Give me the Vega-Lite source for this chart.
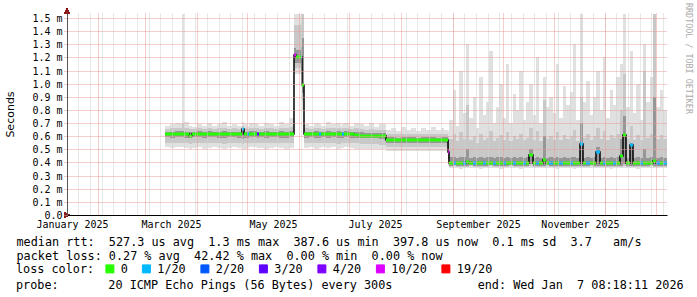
{
  "$schema": "https://vega.github.io/schema/vega-lite/v6.json",
  "width": 600,
  "height": 202,
  "autosize": {"type": "none"},
  "padding": {"left": 67, "top": 13, "right": 30, "bottom": 82},
  "background": "white",
  "config": {"view": {"stroke": null}},
  "title": {
    "text": "probe:\u00a0\u00a0\u00a0\u00a0\u00a0\u00a0\u00a020\u00a0ICMP\u00a0Echo\u00a0Pings\u00a0(56\u00a0Bytes)\u00a0every\u00a0300s\u00a0\u00a0\u00a0\u00a0\u00a0\u00a0\u00a0\u00a0\u00a0\u00a0\u00a0\u00a0end:\u00a0Wed\u00a0Jan\u00a0\u00a07\u00a008:18:11\u00a02026",
    "orient": "bottom", "anchor": "start", "frame": "group",
    "font": "DejaVu Sans Mono", "fontSize": 11.8, "fontWeight": "normal", "color": "black",
    "dx": -51, "offset": 4
  },
  "data": {"values": [
    {"t":"2025-03-13","m":0.615,"l":"0","a":0.52,"b":0.68,"c":0.55,"d":0.655,"e":0.595,"f":0.635},
    {"t":"2025-03-16","m":0.613,"l":"0","a":0.51,"b":0.69,"c":0.545,"d":0.66,"e":0.59,"f":0.635},
    {"t":"2025-03-19","m":0.615,"l":"0","a":0.52,"b":0.70,"c":0.55,"d":0.665,"e":0.595,"f":0.64},
    {"t":"2025-03-23","m":0.615,"l":"0","a":0.515,"b":1.53,"c":0.55,"d":0.69,"e":0.595,"f":0.64},
    {"t":"2025-03-24","m":0.614,"l":"0","a":0.51,"b":0.71,"c":0.545,"d":0.665,"e":0.59,"f":0.635},
    {"t":"2025-03-27","m":0.602,"l":"0","a":0.50,"b":0.68,"c":0.54,"d":0.655,"e":0.585,"f":0.63},
    {"t":"2025-03-29","m":0.615,"l":"0","a":0.51,"b":0.67,"c":0.55,"d":0.655,"e":0.595,"f":0.635},
    {"t":"2025-04-01","m":0.616,"l":"0","a":0.52,"b":0.69,"c":0.55,"d":0.66,"e":0.595,"f":0.64},
    {"t":"2025-04-04","m":0.615,"l":"0","a":0.505,"b":0.68,"c":0.545,"d":0.655,"e":0.59,"f":0.635},
    {"t":"2025-04-07","m":0.614,"l":"0","a":0.51,"b":0.70,"c":0.55,"d":0.665,"e":0.595,"f":0.64},
    {"t":"2025-04-10","m":0.615,"l":"0","a":0.52,"b":0.68,"c":0.55,"d":0.655,"e":0.595,"f":0.635},
    {"t":"2025-04-13","m":0.615,"l":"0","a":0.51,"b":0.69,"c":0.545,"d":0.66,"e":0.59,"f":0.635},
    {"t":"2025-04-16","m":0.616,"l":"0","a":0.50,"b":0.71,"c":0.54,"d":0.665,"e":0.59,"f":0.64},
    {"t":"2025-04-19","m":0.615,"l":"0","a":0.51,"b":0.68,"c":0.55,"d":0.655,"e":0.595,"f":0.635},
    {"t":"2025-04-22","m":0.614,"l":"0","a":0.515,"b":0.69,"c":0.55,"d":0.66,"e":0.595,"f":0.635},
    {"t":"2025-04-25","m":0.615,"l":"0","a":0.51,"b":0.68,"c":0.545,"d":0.655,"e":0.59,"f":0.635},
    {"t":"2025-04-28","m":0.655,"l":"1/20","a":0.50,"b":0.71,"c":0.54,"d":0.68,"e":0.58,"f":0.66},
    {"t":"2025-04-29","m":0.615,"l":"0","a":0.505,"b":0.69,"c":0.545,"d":0.66,"e":0.59,"f":0.635},
    {"t":"2025-05-01","m":0.615,"l":"1/20","a":0.51,"b":0.68,"c":0.545,"d":0.655,"e":0.59,"f":0.635},
    {"t":"2025-05-02","m":0.615,"l":"0","a":0.52,"b":0.70,"c":0.55,"d":0.66,"e":0.595,"f":0.64},
    {"t":"2025-05-07","m":0.615,"l":"3/20","a":0.51,"b":0.69,"c":0.545,"d":0.66,"e":0.59,"f":0.635},
    {"t":"2025-05-08","m":0.616,"l":"0","a":0.51,"b":0.68,"c":0.55,"d":0.655,"e":0.595,"f":0.635},
    {"t":"2025-05-11","m":0.615,"l":"0","a":0.505,"b":0.70,"c":0.545,"d":0.665,"e":0.59,"f":0.64},
    {"t":"2025-05-14","m":0.615,"l":"0","a":0.51,"b":0.69,"c":0.55,"d":0.66,"e":0.595,"f":0.635},
    {"t":"2025-05-17","m":0.614,"l":"0","a":0.52,"b":0.68,"c":0.55,"d":0.655,"e":0.595,"f":0.635},
    {"t":"2025-05-20","m":0.615,"l":"0","a":0.51,"b":0.71,"c":0.545,"d":0.665,"e":0.59,"f":0.64},
    {"t":"2025-05-23","m":0.616,"l":"0","a":0.505,"b":0.69,"c":0.545,"d":0.66,"e":0.59,"f":0.635},
    {"t":"2025-05-26","m":0.615,"l":"0","a":0.51,"b":0.74,"c":0.55,"d":0.67,"e":0.595,"f":0.64},
    {"t":"2025-05-29","m":1.215,"l":"10/20","a":1.07,"b":1.53,"c":1.12,"d":1.45,"e":1.16,"f":1.27},
    {"t":"2025-05-30","m":1.20,"l":"0","a":1.07,"b":1.53,"c":1.12,"d":1.45,"e":1.16,"f":1.26},
    {"t":"2025-06-02","m":1.205,"l":"1/20","a":1.06,"b":1.53,"c":1.11,"d":1.47,"e":1.16,"f":1.28},
    {"t":"2025-06-03","m":0.99,"l":"0","a":0.80,"b":1.53,"c":0.87,"d":1.53,"e":0.93,"f":1.35},
    {"t":"2025-06-04","m":0.615,"l":"0","a":0.51,"b":0.69,"c":0.545,"d":0.66,"e":0.59,"f":0.635},
    {"t":"2025-06-07","m":0.616,"l":"0","a":0.52,"b":0.68,"c":0.55,"d":0.655,"e":0.595,"f":0.635},
    {"t":"2025-06-10","m":0.615,"l":"0","a":0.505,"b":0.70,"c":0.545,"d":0.665,"e":0.59,"f":0.64},
    {"t":"2025-06-13","m":0.615,"l":"1/20","a":0.51,"b":0.69,"c":0.545,"d":0.66,"e":0.59,"f":0.635},
    {"t":"2025-06-14","m":0.615,"l":"0","a":0.52,"b":0.68,"c":0.55,"d":0.655,"e":0.595,"f":0.635},
    {"t":"2025-06-17","m":0.614,"l":"0","a":0.51,"b":0.71,"c":0.545,"d":0.665,"e":0.59,"f":0.64},
    {"t":"2025-06-20","m":0.615,"l":"0","a":0.515,"b":0.69,"c":0.55,"d":0.66,"e":0.595,"f":0.635},
    {"t":"2025-06-23","m":0.616,"l":"0","a":0.50,"b":0.70,"c":0.54,"d":0.665,"e":0.59,"f":0.64},
    {"t":"2025-06-26","m":0.615,"l":"0","a":0.51,"b":0.68,"c":0.545,"d":0.655,"e":0.59,"f":0.635},
    {"t":"2025-06-27","m":0.615,"l":"1/20","a":0.51,"b":0.69,"c":0.545,"d":0.66,"e":0.59,"f":0.635},
    {"t":"2025-06-28","m":0.615,"l":"0","a":0.515,"b":0.70,"c":0.55,"d":0.66,"e":0.595,"f":0.64},
    {"t":"2025-07-01","m":0.615,"l":"0","a":0.51,"b":0.68,"c":0.545,"d":0.655,"e":0.59,"f":0.635},
    {"t":"2025-07-04","m":0.612,"l":"0","a":0.505,"b":0.70,"c":0.545,"d":0.66,"e":0.59,"f":0.635},
    {"t":"2025-07-07","m":0.605,"l":"0","a":0.50,"b":0.69,"c":0.54,"d":0.655,"e":0.585,"f":0.63},
    {"t":"2025-07-10","m":0.602,"l":"0","a":0.505,"b":0.68,"c":0.54,"d":0.65,"e":0.585,"f":0.625},
    {"t":"2025-07-13","m":0.602,"l":"0","a":0.50,"b":0.70,"c":0.54,"d":0.655,"e":0.585,"f":0.625},
    {"t":"2025-07-16","m":0.602,"l":"0","a":0.505,"b":0.67,"c":0.54,"d":0.65,"e":0.585,"f":0.625},
    {"t":"2025-07-19","m":0.600,"l":"0","a":0.50,"b":0.69,"c":0.535,"d":0.65,"e":0.58,"f":0.625},
    {"t":"2025-07-23","m":0.572,"l":"0","a":0.49,"b":0.65,"c":0.52,"d":0.615,"e":0.55,"f":0.595},
    {"t":"2025-07-26","m":0.572,"l":"0","a":0.485,"b":0.66,"c":0.52,"d":0.62,"e":0.55,"f":0.595},
    {"t":"2025-07-29","m":0.570,"l":"0","a":0.49,"b":0.64,"c":0.52,"d":0.615,"e":0.55,"f":0.59},
    {"t":"2025-08-01","m":0.572,"l":"0","a":0.49,"b":0.67,"c":0.52,"d":0.62,"e":0.55,"f":0.595},
    {"t":"2025-08-04","m":0.571,"l":"0","a":0.485,"b":0.65,"c":0.515,"d":0.615,"e":0.55,"f":0.595},
    {"t":"2025-08-07","m":0.572,"l":"0","a":0.49,"b":0.66,"c":0.52,"d":0.62,"e":0.55,"f":0.595},
    {"t":"2025-08-10","m":0.572,"l":"0","a":0.49,"b":0.64,"c":0.52,"d":0.615,"e":0.55,"f":0.59},
    {"t":"2025-08-13","m":0.570,"l":"0","a":0.485,"b":0.66,"c":0.515,"d":0.62,"e":0.55,"f":0.595},
    {"t":"2025-08-16","m":0.572,"l":"0","a":0.49,"b":0.65,"c":0.52,"d":0.615,"e":0.55,"f":0.595},
    {"t":"2025-08-19","m":0.572,"l":"0","a":0.49,"b":0.67,"c":0.52,"d":0.62,"e":0.55,"f":0.595},
    {"t":"2025-08-22","m":0.571,"l":"0","a":0.485,"b":0.65,"c":0.515,"d":0.615,"e":0.55,"f":0.59},
    {"t":"2025-08-25","m":0.572,"l":"0","a":0.49,"b":0.66,"c":0.52,"d":0.62,"e":0.55,"f":0.595},
    {"t":"2025-08-27","m":0.572,"l":"0","a":0.49,"b":0.65,"c":0.52,"d":0.615,"e":0.55,"f":0.595},
    {"t":"2025-08-29","m":0.48,"l":"10/20","a":0.37,"b":0.64,"c":0.40,"d":0.60,"e":0.43,"f":0.57},
    {"t":"2025-08-30","m":0.395,"l":"0","a":0.355,"b":0.72,"c":0.365,"d":0.58,"e":0.375,"f":0.44},
    {"t":"2025-09-01","m":0.398,"l":"1/20","a":0.36,"b":0.95,"c":0.37,"d":0.62,"e":0.378,"f":0.44},
    {"t":"2025-09-03","m":0.395,"l":"0","a":0.355,"b":0.68,"c":0.365,"d":0.56,"e":0.375,"f":0.435},
    {"t":"2025-09-05","m":0.393,"l":"0","a":0.35,"b":1.10,"c":0.362,"d":0.63,"e":0.375,"f":0.44},
    {"t":"2025-09-07","m":0.396,"l":"1/20","a":0.355,"b":0.78,"c":0.365,"d":0.58,"e":0.375,"f":0.44},
    {"t":"2025-09-09","m":0.40,"l":"0","a":0.355,"b":1.30,"c":0.365,"d":0.84,"e":0.375,"f":0.50},
    {"t":"2025-09-11","m":0.395,"l":"0","a":0.36,"b":0.74,"c":0.37,"d":0.57,"e":0.378,"f":0.435},
    {"t":"2025-09-13","m":0.394,"l":"1/20","a":0.355,"b":0.90,"c":0.365,"d":0.60,"e":0.375,"f":0.44},
    {"t":"2025-09-15","m":0.395,"l":"0","a":0.355,"b":0.66,"c":0.365,"d":0.55,"e":0.375,"f":0.435},
    {"t":"2025-09-17","m":0.397,"l":"0","a":0.35,"b":1.05,"c":0.362,"d":0.62,"e":0.375,"f":0.44},
    {"t":"2025-09-19","m":0.395,"l":"1/20","a":0.355,"b":0.76,"c":0.365,"d":0.57,"e":0.375,"f":0.435},
    {"t":"2025-09-21","m":0.394,"l":"0","a":0.355,"b":0.86,"c":0.365,"d":0.59,"e":0.375,"f":0.44},
    {"t":"2025-09-23","m":0.396,"l":"0","a":0.36,"b":1.25,"c":0.37,"d":0.64,"e":0.378,"f":0.445},
    {"t":"2025-09-25","m":0.395,"l":"1/20","a":0.355,"b":0.70,"c":0.365,"d":0.56,"e":0.375,"f":0.435},
    {"t":"2025-09-27","m":0.393,"l":"0","a":0.355,"b":0.82,"c":0.365,"d":0.59,"e":0.375,"f":0.44},
    {"t":"2025-09-29","m":0.396,"l":"0","a":0.35,"b":1.00,"c":0.362,"d":0.61,"e":0.375,"f":0.44},
    {"t":"2025-10-01","m":0.395,"l":"1/20","a":0.355,"b":0.74,"c":0.365,"d":0.57,"e":0.375,"f":0.435},
    {"t":"2025-10-03","m":0.397,"l":"0","a":0.355,"b":1.15,"c":0.365,"d":0.63,"e":0.375,"f":0.44},
    {"t":"2025-10-05","m":0.395,"l":"0","a":0.36,"b":0.70,"c":0.37,"d":0.56,"e":0.378,"f":0.435},
    {"t":"2025-10-07","m":0.394,"l":"1/20","a":0.355,"b":0.92,"c":0.365,"d":0.60,"e":0.375,"f":0.44},
    {"t":"2025-10-09","m":0.396,"l":"0","a":0.355,"b":0.80,"c":0.365,"d":0.58,"e":0.375,"f":0.435},
    {"t":"2025-10-11","m":0.395,"l":"0","a":0.35,"b":1.10,"c":0.362,"d":0.62,"e":0.375,"f":0.44},
    {"t":"2025-10-13","m":0.395,"l":"1/20","a":0.355,"b":0.72,"c":0.365,"d":0.57,"e":0.375,"f":0.435},
    {"t":"2025-10-15","m":0.397,"l":"0","a":0.355,"b":0.86,"c":0.365,"d":0.59,"e":0.375,"f":0.44},
    {"t":"2025-10-17","m":0.457,"l":"0","a":0.36,"b":1.00,"c":0.37,"d":0.66,"e":0.385,"f":0.50},
    {"t":"2025-10-19","m":0.395,"l":"0","a":0.355,"b":0.76,"c":0.365,"d":0.57,"e":0.375,"f":0.435},
    {"t":"2025-10-21","m":0.394,"l":"1/20","a":0.355,"b":1.20,"c":0.365,"d":0.64,"e":0.375,"f":0.44},
    {"t":"2025-10-23","m":0.396,"l":"0","a":0.355,"b":0.70,"c":0.365,"d":0.56,"e":0.375,"f":0.435},
    {"t":"2025-10-25","m":0.42,"l":"0","a":0.355,"b":1.05,"c":0.365,"d":0.875,"e":0.375,"f":0.60},
    {"t":"2025-10-27","m":0.395,"l":"0","a":0.36,"b":0.82,"c":0.37,"d":0.58,"e":0.378,"f":0.435},
    {"t":"2025-10-29","m":0.395,"l":"1/20","a":0.355,"b":0.90,"c":0.365,"d":0.60,"e":0.375,"f":0.44},
    {"t":"2025-10-31","m":0.396,"l":"0","a":0.355,"b":0.78,"c":0.365,"d":0.57,"e":0.375,"f":0.435},
    {"t":"2025-11-02","m":0.394,"l":"0","a":0.35,"b":1.15,"c":0.362,"d":0.63,"e":0.375,"f":0.44},
    {"t":"2025-11-04","m":0.395,"l":"1/20","a":0.355,"b":0.74,"c":0.365,"d":0.57,"e":0.375,"f":0.435},
    {"t":"2025-11-06","m":0.397,"l":"0","a":0.355,"b":0.98,"c":0.365,"d":0.61,"e":0.375,"f":0.44},
    {"t":"2025-11-08","m":0.395,"l":"0","a":0.355,"b":0.84,"c":0.365,"d":0.58,"e":0.375,"f":0.435},
    {"t":"2025-11-10","m":0.395,"l":"1/20","a":0.355,"b":0.94,"c":0.365,"d":0.60,"e":0.375,"f":0.44},
    {"t":"2025-11-12","m":0.396,"l":"0","a":0.35,"b":1.30,"c":0.362,"d":0.65,"e":0.375,"f":0.445},
    {"t":"2025-11-14","m":0.395,"l":"0","a":0.355,"b":0.72,"c":0.365,"d":0.56,"e":0.375,"f":0.435},
    {"t":"2025-11-16","m":0.54,"l":"1/20","a":0.355,"b":1.53,"c":0.365,"d":0.90,"e":0.375,"f":0.70},
    {"t":"2025-11-18","m":0.395,"l":"0","a":0.355,"b":0.86,"c":0.365,"d":0.59,"e":0.375,"f":0.435},
    {"t":"2025-11-20","m":0.394,"l":"1/20","a":0.355,"b":1.02,"c":0.365,"d":0.62,"e":0.375,"f":0.44},
    {"t":"2025-11-22","m":0.396,"l":"0","a":0.36,"b":0.76,"c":0.37,"d":0.57,"e":0.378,"f":0.435},
    {"t":"2025-11-24","m":0.395,"l":"0","a":0.355,"b":0.90,"c":0.365,"d":0.60,"e":0.375,"f":0.44},
    {"t":"2025-11-26","m":0.48,"l":"1/20","a":0.355,"b":1.10,"c":0.365,"d":0.66,"e":0.375,"f":0.52},
    {"t":"2025-11-28","m":0.395,"l":"0","a":0.355,"b":0.80,"c":0.365,"d":0.58,"e":0.375,"f":0.435},
    {"t":"2025-11-30","m":0.396,"l":"1/20","a":0.355,"b":1.20,"c":0.365,"d":0.64,"e":0.375,"f":0.44},
    {"t":"2025-12-02","m":0.395,"l":"0","a":0.355,"b":0.74,"c":0.365,"d":0.57,"e":0.375,"f":0.435},
    {"t":"2025-12-04","m":0.394,"l":"0","a":0.35,"b":0.95,"c":0.362,"d":0.61,"e":0.375,"f":0.44},
    {"t":"2025-12-06","m":0.395,"l":"1/20","a":0.355,"b":0.84,"c":0.365,"d":0.59,"e":0.375,"f":0.435},
    {"t":"2025-12-08","m":0.396,"l":"0","a":0.355,"b":1.05,"c":0.365,"d":0.62,"e":0.375,"f":0.44},
    {"t":"2025-12-10","m":0.45,"l":"0","a":0.355,"b":1.15,"c":0.365,"d":0.80,"e":0.375,"f":0.58},
    {"t":"2025-12-12","m":0.61,"l":"0","a":0.36,"b":1.53,"c":0.37,"d":1.07,"e":0.39,"f":0.75},
    {"t":"2025-12-14","m":0.395,"l":"0","a":0.355,"b":0.82,"c":0.365,"d":0.58,"e":0.375,"f":0.435},
    {"t":"2025-12-16","m":0.53,"l":"1/20","a":0.355,"b":1.25,"c":0.365,"d":0.68,"e":0.375,"f":0.55},
    {"t":"2025-12-18","m":0.395,"l":"0","a":0.355,"b":0.78,"c":0.365,"d":0.57,"e":0.375,"f":0.435},
    {"t":"2025-12-20","m":0.396,"l":"0","a":0.35,"b":1.00,"c":0.362,"d":0.61,"e":0.375,"f":0.44},
    {"t":"2025-12-22","m":0.395,"l":"1/20","a":0.355,"b":0.72,"c":0.365,"d":0.57,"e":0.375,"f":0.435},
    {"t":"2025-12-24","m":0.396,"l":"0","a":0.355,"b":1.30,"c":0.365,"d":1.10,"e":0.375,"f":0.50},
    {"t":"2025-12-26","m":0.395,"l":"0","a":0.355,"b":0.86,"c":0.365,"d":0.59,"e":0.375,"f":0.435},
    {"t":"2025-12-28","m":0.394,"l":"0","a":0.36,"b":1.05,"c":0.37,"d":0.62,"e":0.378,"f":0.44},
    {"t":"2025-12-30","m":0.41,"l":"0","a":0.355,"b":1.53,"c":0.365,"d":1.53,"e":0.375,"f":0.90},
    {"t":"2026-01-01","m":0.395,"l":"1/20","a":0.355,"b":0.82,"c":0.365,"d":0.58,"e":0.375,"f":0.435},
    {"t":"2026-01-03","m":0.396,"l":"0","a":0.355,"b":0.95,"c":0.365,"d":0.61,"e":0.375,"f":0.44},
    {"t":"2026-01-05","m":0.395,"l":"1/20","a":0.355,"b":0.80,"c":0.365,"d":0.58,"e":0.375,"f":0.435},
    {"t":"2026-01-07T08:18:11","m":0.395,"l":"1/20","a":0.355,"b":0.80,"c":0.365,"d":0.58,"e":0.375,"f":0.435}
  ]},
  "resolve": {"axis": {"x": "independent", "y": "independent"}},
  "layer": [
    {
      "mark": {"type": "area", "interpolate": "step-after", "color": "#e0e0e0"},
      "encoding": {
        "x": {"field": "t", "type": "temporal",
          "scale": {"domain": ["2025-01-13T05:00:00", "2026-01-07T08:18:11"], "round": true},
          "axis": {"orient": "bottom", "title": null, "labels": false, "ticks": false, "domain": false,
            "grid": true, "gridColor": "#d0d0d0", "gridDash": [1, 1], "zindex": 1,
            "values": ["2025-01-20","2025-01-27","2025-02-03","2025-02-10","2025-02-17","2025-02-24","2025-03-03","2025-03-10","2025-03-17","2025-03-24","2025-03-31","2025-04-07","2025-04-14","2025-04-21","2025-04-28","2025-05-05","2025-05-12","2025-05-19","2025-05-26","2025-06-02","2025-06-09","2025-06-16","2025-06-23","2025-06-30","2025-07-07","2025-07-14","2025-07-21","2025-07-28","2025-08-04","2025-08-11","2025-08-18","2025-08-25","2025-09-01","2025-09-08","2025-09-15","2025-09-22","2025-09-29","2025-10-06","2025-10-13","2025-10-20","2025-10-27","2025-11-03","2025-11-10","2025-11-17","2025-11-24","2025-12-01","2025-12-08","2025-12-15","2025-12-22","2025-12-29","2026-01-05"]}},
        "y": {"field": "a", "type": "quantitative",
          "scale": {"domain": [0, 1.538], "nice": false, "zero": true, "round": true},
          "axis": {"orient": "left", "values": [0,0.1,0.2,0.3,0.4,0.5,0.6,0.7,0.8,0.9,1.0,1.1,1.2,1.3,1.4,1.5],
            "labelExpr": "datum.value == 0 ? '0.0' : format(datum.value, '.1f') + ' m'",
            "labelFont": "DejaVu Sans Mono", "labelFontSize": 10, "labelColor": "black", "labelPadding": 2,
            "ticks": true, "tickSize": 3, "tickColor": "#eb9a9a", "tickDash": [1, 1],
            "domain": true, "domainColor": "#555555", "domainWidth": 1,
            "grid": true, "gridColor": "#eb9a9a", "gridDash": [1, 1], "zindex": 1,
            "title": "Seconds", "titleFont": "DejaVu Sans", "titleFontSize": 11, "titleFontWeight": "normal",
            "titleColor": "black", "titleAngle": -90, "titleX": -57, "titleY": 101, "titleAlign": "center", "titleBaseline": "middle"}},
        "y2": {"field": "b"}
      }
    },
    {
      "mark": {"type": "area", "interpolate": "step-after", "color": "#c8c8c8"},
      "encoding": {
        "x": {"field": "t", "type": "temporal",
          "axis": {"orient": "bottom", "title": null, "labels": false, "ticks": false,
            "domain": true, "domainColor": "black", "domainWidth": 1,
            "grid": true, "gridColor": "#eb9a9a", "gridDash": [1, 1], "zindex": 1,
            "values": ["2025-02-01","2025-03-01","2025-04-01","2025-05-01","2025-06-01","2025-07-01","2025-08-01","2025-09-01","2025-10-01","2025-11-01","2025-12-01","2026-01-01"]}},
        "y": {"field": "c", "type": "quantitative",
          "axis": {"orient": "right", "labels": false, "ticks": false, "domain": false, "grid": false,
            "title": "RRDTOOL / TOBI OETIKER", "titleFont": "DejaVu Sans Mono", "titleFontSize": 8.4,
            "titleFontWeight": "normal", "titleColor": "#aaaaaa", "titleAngle": 90, "titleX": 21, "titleY": 45,
            "titleAlign": "center", "titleBaseline": "middle"}},
        "y2": {"field": "d"}
      }
    },
    {
      "mark": {"type": "area", "interpolate": "step-after", "color": "#969696"},
      "encoding": {
        "x": {"field": "t", "type": "temporal",
          "axis": {"orient": "bottom", "grid": false, "ticks": false, "domain": false,
            "values": ["2025-01-16T12:00:00","2025-03-16T12:00:00","2025-05-16T12:00:00","2025-07-16T12:00:00","2025-09-16T00:00:00","2025-11-16T00:00:00"],
            "format": "%B %Y", "labelFont": "DejaVu Sans Mono", "labelFontSize": 10, "labelColor": "black",
            "labelPadding": 4, "labelOverlap": false, "labelFlush": false, "labelBound": false,
            "title": ["median\u00a0rtt:\u00a0\u00a0527.3\u00a0us\u00a0avg\u00a0\u00a01.3\u00a0ms\u00a0max\u00a0\u00a0387.6\u00a0us\u00a0min\u00a0\u00a0397.8\u00a0us\u00a0now\u00a0\u00a00.1\u00a0ms\u00a0sd\u00a0\u00a03.7\u00a0\u00a0\u00a0am/s",
                      "packet\u00a0loss:\u00a00.27\u00a0%\u00a0avg\u00a0\u00a042.42\u00a0%\u00a0max\u00a0\u00a00.00\u00a0%\u00a0min\u00a0\u00a00.00\u00a0%\u00a0now"],
            "titleFont": "DejaVu Sans Mono", "titleFontSize": 11.8, "titleFontWeight": "normal", "titleColor": "black",
            "titleAnchor": "start", "titleAlign": "left", "titleX": -51, "titleY": 30, "titleBaseline": "alphabetic",
            "titleLineHeight": 14}},
        "y": {"field": "e", "type": "quantitative", "axis": null},
        "y2": {"field": "f"}
      }
    },
    {
      "mark": {"type": "line", "interpolate": "step-after", "color": "black", "strokeWidth": 1.5},
      "encoding": {
        "x": {"field": "t", "type": "temporal", "axis": null},
        "y": {"field": "m", "type": "quantitative", "axis": null}
      }
    },
    {
      "transform": [{"window": [{"op": "lead", "field": "t", "as": "t2"}], "sort": [{"field": "t"}]}],
      "mark": {"type": "rule", "strokeWidth": 3, "strokeCap": "butt"},
      "encoding": {
        "x": {"field": "t", "type": "temporal", "axis": null},
        "x2": {"field": "t2"},
        "y": {"field": "m", "type": "quantitative", "axis": null},
        "color": {"field": "l", "type": "nominal",
          "scale": {"domain": ["0","1/20","2/20","3/20","4/20","10/20","19/20"],
                    "range": ["#26ff00","#00b8ff","#0059ff","#5e00ff","#7e00ff","#dd00ff","#ff0000"]},
          "legend": {"orient": "none", "legendX": -51, "legendY": 250, "direction": "horizontal",
            "gridAlign": "none",
            "title": "loss\u00a0color:", "titleOrient": "left", "titleFont": "DejaVu Sans Mono", "titleFontSize": 11.8,
            "titleFontWeight": "normal", "titleColor": "black", "titlePadding": 9, "titleBaseline": "middle",
            "labelFont": "DejaVu Sans Mono", "labelFontSize": 11.8, "labelColor": "black",
            "symbolType": "square", "symbolSize": 64, "symbolStrokeWidth": 1, "labelOffset": 5, "columnPadding": 11.5,
            "encode": {"symbols": {"update": {"fill": {"scale": "color", "field": "value"}, "stroke": {"value": "black"}, "strokeWidth": {"value": 1}, "opacity": {"value": 1}}}}}
        }
      }
    },
    {
      "mark": {"type": "point", "shape": "triangle-right", "filled": true, "color": "#8b1a1a", "size": 28, "opacity": 1, "clip": false},
      "encoding": {
        "x": {"datum": "2026-01-09T12:00:00", "type": "temporal", "axis": null},
        "y": {"datum": 0, "type": "quantitative", "axis": null}
      }
    },
    {
      "mark": {"type": "point", "shape": "triangle-up", "filled": true, "color": "#8b1a1a", "size": 28, "opacity": 1, "clip": false},
      "encoding": {
        "x": {"datum": "2025-01-13T05:00:00", "type": "temporal", "axis": null},
        "y": {"datum": 1.555, "type": "quantitative", "axis": null}
      }
    }
  ]
}
